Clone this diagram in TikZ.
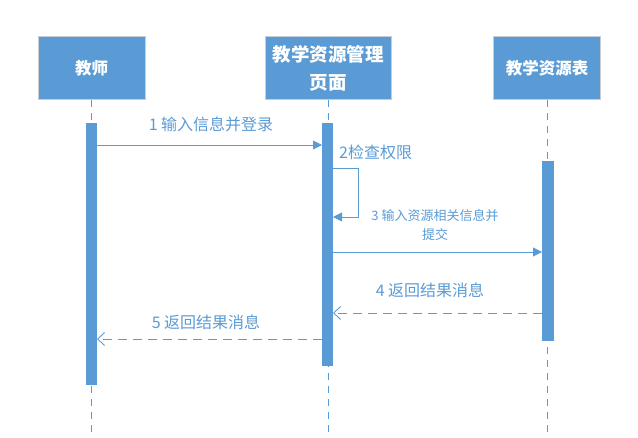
\documentclass[tikz,border=0pt]{standalone}
\usepackage{fontspec}
\setmainfont{Noto Sans CJK SC}
\usetikzlibrary{arrows.meta}
\definecolor{blu}{HTML}{5B9BD5}
\definecolor{edge}{HTML}{C8CDD3}
\tikzset{
  actor/.style={draw=edge, line width=1pt, fill=blu, text=white, font=\bfseries\fontsize{16.5}{18}\selectfont, align=center, inner sep=0pt},
  bar/.style={fill=blu, draw=none},
  life/.style={draw=blu, dash pattern=on 7pt off 6pt, line width=0.8pt},
  msg/.style={draw=blu, line width=0.9pt, -{Triangle[length=9pt,width=9pt]}},
  ret/.style={draw=blu, line width=0.9pt, dash pattern=on 9pt off 6pt, -{Straight Barb[length=7pt,width=13pt,line width=0.9pt]}},
  lbl/.style={text=blu, font=\fontsize{16}{19}\selectfont, inner sep=0pt},
  lblsm/.style={text=blu, font=\fontsize{13}{19}\selectfont, align=center, inner sep=0pt}
}
\begin{document}
\begin{tikzpicture}[x=1pt,y=-1pt]
\useasboundingbox (0,0) rectangle (638,438);
% actors
\node[actor, minimum width=107pt, minimum height=63pt] (t) at (91.5,68.5) {教师};
\node[actor, minimum width=126pt, minimum height=63pt, font=\bfseries\fontsize{18.5}{28}\selectfont] (p) at (328,68.5) {教学资源管理\\页面};
\node[actor, minimum width=107pt, minimum height=63pt] (b) at (547,68.5) {教学资源表};
% lifelines
\coordinate (tend) at (91.5,438);
\coordinate (pend) at (328,438);
\coordinate (bend) at (547,438);
\draw[life] (t.south) -- (tend);
\draw[life] (p.south) -- (pend);
\draw[life] (b.south) -- (bend);
% activation bars
\node[bar, minimum width=11pt, minimum height=262pt, inner sep=0pt] (ta) at (91.5,254) {};
\node[bar, minimum width=11pt, minimum height=243pt, inner sep=0pt] (pa) at (327.5,244.5) {};
\node[bar, minimum width=12pt, minimum height=180pt, inner sep=0pt] (ba) at (548,251) {};
% coordinates on bars
\coordinate (m1s) at (97,145);
\coordinate (m1e) at (322,145);
\coordinate (s1) at (333,168);
\coordinate (s2) at (358,168);
\coordinate (s3) at (358,217);
\coordinate (s4) at (333,217);
\coordinate (m3s) at (333,252);
\coordinate (m3e) at (542,252);
\coordinate (m4s) at (542,313);
\coordinate (m4e) at (333,313);
\coordinate (m5s) at (322,339);
\coordinate (m5e) at (97,339);
% messages
\draw[msg] (m1s) -- (m1e);
\draw[msg] (s1) -- (s2) -- (s3) -- (s4);
\draw[msg] (m3s) -- (m3e);
\draw[ret] (m4s) -- (m4e);
\draw[ret] (m5s) -- (m5e);
% labels
\node[lbl] (l1) at (211,124) {1 输入信息并登录};
\node[lbl, anchor=west] (l2) at (339,152) {2检查权限};
\node[lblsm] (l3) at (435,225) {3 输入资源相关信息并\\提交};
\node[lbl] (l4) at (430,290) {4 返回结果消息};
\node[lbl] (l5) at (206,322) {5 返回结果消息};
\end{tikzpicture}
\end{document}
